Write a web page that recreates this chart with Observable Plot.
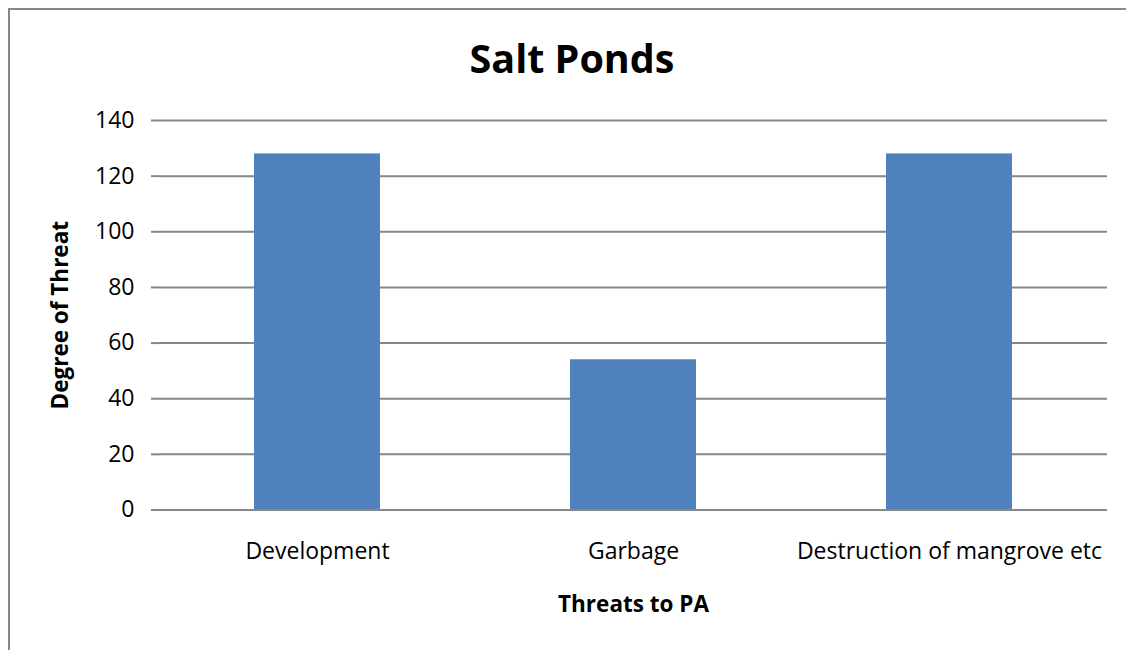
<!DOCTYPE html>
<html>
<head>
<meta charset="utf-8">
<script src="https://cdn.jsdelivr.net/npm/d3@7"></script>
<script src="https://cdn.jsdelivr.net/npm/@observablehq/plot@0.6"></script>
<style>
  html, body { margin: 0; padding: 0; background: #fff; }
  #wrap { position: relative; width: 1126px; height: 650px; overflow: hidden; font-family: "Open Sans", sans-serif; }
  #frame { position: absolute; left: 8px; top: 8px; width: 1140px; height: 700px; border-left: 2px solid #878787; border-top: 2px solid #878787; box-sizing: border-box; pointer-events: none; }
  #title { position: absolute; left: 0; width: 1144px; top: 33px; text-align: center; font-size: 39.5px; font-weight: bold; color: #000; line-height: 1.3; }
  #plot { position: absolute; left: 0; top: 0; }
</style>
</head>
<body>
<div id="wrap">
  <div id="plot"></div>
  <div id="frame"></div>
  <div id="title">Salt Ponds</div>
</div>
<script>
const categories = ["Development", "Garbage", "Destruction of mangrove etc"];
const values = [128, 54, 128];
const yTicks = [0, 20, 40, 60, 80, 100, 120, 140];

const data = categories.map((c, i) => ({category: c, value: values[i]}));

const chart = Plot.plot({
  width: 1126,
  height: 650,
  marginLeft: 159,
  marginRight: 19,
  marginTop: 120,
  marginBottom: 140.5,
  style: {fontFamily: "'Open Sans', sans-serif", fontSize: "23px", color: "#000", background: "transparent"},
  x: {domain: categories, paddingInner: 0.6, paddingOuter: 0.3, label: null},
  y: {domain: [0, 140], label: null},
  marks: [
    Plot.gridY(yTicks, {stroke: "#878787", strokeOpacity: 1, strokeWidth: 2}),
    Plot.barY(data, {x: "category", y: "value", fill: "#4F81BD"}),
    Plot.axisY(yTicks, {tickSize: 8, tickPadding: 17, stroke: "#878787", strokeWidth: 2, fontSize: 23, fill: "#000", label: null}),
    Plot.ruleX([0], {frameAnchor: "left", stroke: "#878787", strokeWidth: 2}),
    Plot.ruleY([0], {stroke: "#878787", strokeWidth: 2}),
    Plot.axisX({tickSize: 0, tickPadding: 33, fontSize: 23, fill: "#000", label: null}),
    Plot.text(["Degree of Threat"], {frameAnchor: "left", textAnchor: "middle", lineAnchor: "middle", dx: -99, rotate: -90, fontSize: 22.5, fontWeight: "bold", fill: "#000"}),
    Plot.text(["Threats to PA"], {frameAnchor: "bottom", lineAnchor: "middle", dy: 95, fontSize: 22.5, fontWeight: "bold", fill: "#000"})
  ]
});
document.getElementById("plot").appendChild(chart);
</script>
</body>
</html>
